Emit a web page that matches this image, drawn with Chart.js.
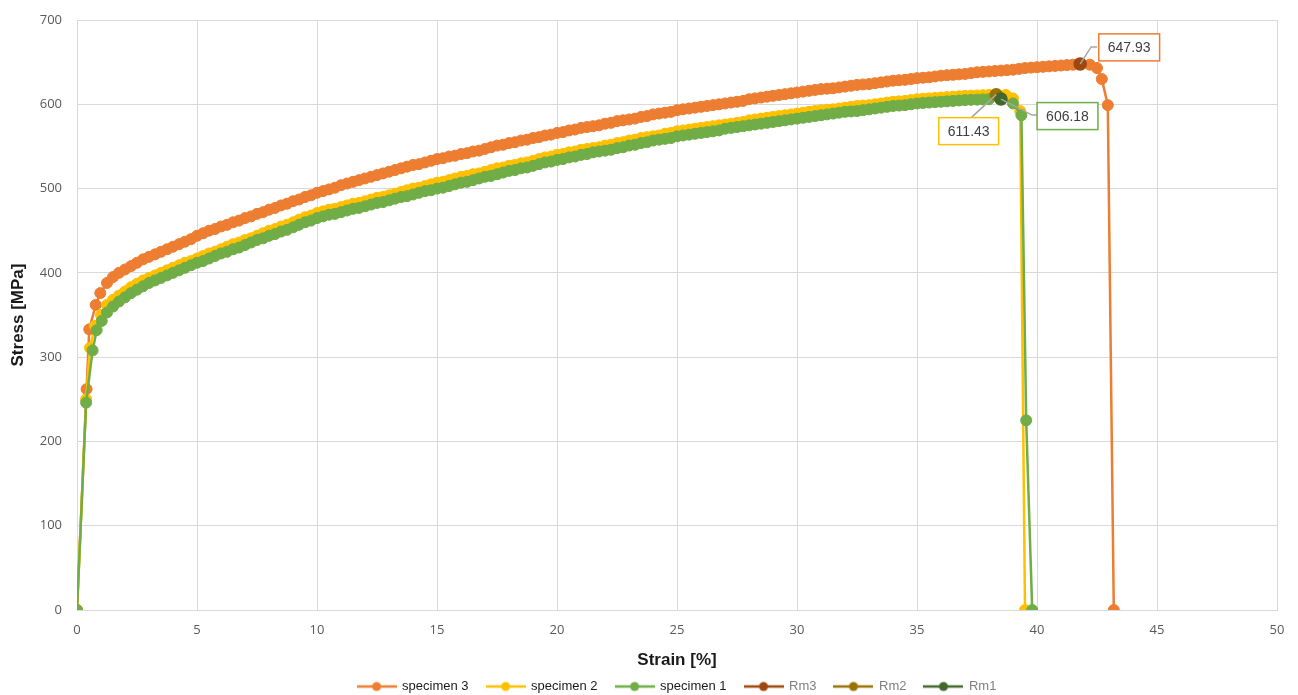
<!DOCTYPE html>
<html>
<head>
<meta charset="utf-8">
<script src="https://cdn.jsdelivr.net/npm/chart.js@4.4.1/dist/chart.umd.min.js"></script>
<style>
html, body { margin: 0; padding: 0; background: #fff; overflow: hidden; }
</style>
</head>
<body>
<canvas id="stressChart" width="1298" height="703"></canvas>
<script>
// specimen 3 (orange)
const strain3 = [0, 0.4, 0.51, 0.78, 0.97, 1.25,
    1.5, 1.75, 2, 2.25, 2.5, 2.75, 3, 3.25, 3.5, 3.75, 4, 4.25, 4.5, 4.75, 5,
    5.25, 5.5, 5.75, 6, 6.25, 6.5, 6.75, 7, 7.25, 7.5, 7.75, 8, 8.25, 8.5, 8.75, 9, 9.25, 9.5, 9.75, 10,
    10.25, 10.5, 10.75, 11, 11.25, 11.5, 11.75, 12, 12.25, 12.5, 12.75, 13, 13.25, 13.5, 13.75, 14, 14.25, 14.5, 14.75, 15,
    15.25, 15.5, 15.75, 16, 16.25, 16.5, 16.75, 17, 17.25, 17.5, 17.75, 18, 18.25, 18.5, 18.75, 19, 19.25, 19.5, 19.75, 20,
    20.25, 20.5, 20.75, 21, 21.25, 21.5, 21.75, 22, 22.25, 22.5, 22.75, 23, 23.25, 23.5, 23.75, 24, 24.25, 24.5, 24.75, 25,
    25.25, 25.5, 25.75, 26, 26.25, 26.5, 26.75, 27, 27.25, 27.5, 27.75, 28, 28.25, 28.5, 28.75, 29, 29.25, 29.5, 29.75, 30,
    30.25, 30.5, 30.75, 31, 31.25, 31.5, 31.75, 32, 32.25, 32.5, 32.75, 33, 33.25, 33.5, 33.75, 34, 34.25, 34.5, 34.75, 35,
    35.25, 35.5, 35.75, 36, 36.25, 36.5, 36.75, 37, 37.25, 37.5, 37.75, 38, 38.25, 38.5, 38.75, 39, 39.25, 39.5, 39.75, 40,
    40.25, 40.5, 40.75, 41, 41.25, 41.5, 41.8, 42.2, 42.5, 42.7, 42.95, 43.2];
const stress3 = [0, 262, 333, 362, 376, 388,
    395, 400, 404, 408, 412, 416, 419, 422, 425, 428, 431, 434, 437, 440, 444,
    447, 450, 452, 455, 457, 460, 462, 465, 467, 470, 472, 475, 477, 480, 482, 485, 487, 490, 492, 495,
    497, 499, 501, 504, 506, 508, 510, 512, 514, 516, 518, 520, 522, 524, 526, 528, 529, 531, 533, 535,
    536, 538, 539, 541, 542, 544, 545, 547, 549, 551, 552, 554, 555, 557, 558, 560, 561, 563, 564, 566,
    567, 569, 570, 572, 573, 574, 575, 577, 578, 580, 581, 582, 583, 585, 586, 588, 589, 590, 591, 593,
    594, 595, 596, 597, 598, 599, 600, 601, 602, 603, 604, 606, 607, 608, 609, 610, 611, 612, 613, 614,
    615, 616, 617, 618, 618.5, 619, 620, 621, 622, 623, 623.5, 624, 625, 626, 627, 628, 628.5, 629, 630, 631,
    631.5, 632, 633, 634, 634.5, 635, 635.5, 636, 637, 638, 638.5, 639, 639.5, 640, 640.5, 641, 642, 643, 643.5, 644,
    644.5, 645, 645.5, 646, 646.5, 647, 647.93, 647, 643, 630, 599, 0];

// specimen 2 (yellow)
const strain2 = [0, 0.38, 0.54, 0.75, 1, 1.25,
    1.5, 1.75, 2, 2.25, 2.5, 2.75, 3, 3.25, 3.5, 3.75, 4, 4.25, 4.5, 4.75, 5,
    5.25, 5.5, 5.75, 6, 6.25, 6.5, 6.75, 7, 7.25, 7.5, 7.75, 8, 8.25, 8.5, 8.75, 9, 9.25, 9.5, 9.75, 10,
    10.25, 10.5, 10.75, 11, 11.25, 11.5, 11.75, 12, 12.25, 12.5, 12.75, 13, 13.25, 13.5, 13.75, 14, 14.25, 14.5, 14.75, 15,
    15.25, 15.5, 15.75, 16, 16.25, 16.5, 16.75, 17, 17.25, 17.5, 17.75, 18, 18.25, 18.5, 18.75, 19, 19.25, 19.5, 19.75, 20,
    20.25, 20.5, 20.75, 21, 21.25, 21.5, 21.75, 22, 22.25, 22.5, 22.75, 23, 23.25, 23.5, 23.75, 24, 24.25, 24.5, 24.75, 25,
    25.25, 25.5, 25.75, 26, 26.25, 26.5, 26.75, 27, 27.25, 27.5, 27.75, 28, 28.25, 28.5, 28.75, 29, 29.25, 29.5, 29.75, 30,
    30.25, 30.5, 30.75, 31, 31.25, 31.5, 31.75, 32, 32.25, 32.5, 32.75, 33, 33.25, 33.5, 33.75, 34, 34.25, 34.5, 34.75, 35,
    35.25, 35.5, 35.75, 36, 36.25, 36.5, 36.75, 37, 37.25, 37.5, 37.75, 38,
    38.3, 38.7, 39, 39.3, 39.5];
const stress2 = [0, 250, 311, 337, 350, 362,
    368, 373, 378, 383, 387, 391, 394, 397, 400, 403, 406, 409, 412, 414, 417,
    420, 423, 425, 428, 431, 434, 436, 439, 441, 444, 447, 450, 452, 455, 457, 460, 463, 466, 468, 471,
    473, 475, 476, 478, 480, 482, 483, 485, 487, 489, 490, 492, 494, 496, 498, 500, 501, 503, 505, 507,
    508, 510, 512, 514, 515, 517, 518, 520, 522, 524, 525, 527, 528, 530, 531, 533, 535, 537, 538, 540,
    541, 543, 544, 546, 547, 548, 549, 551, 552, 554, 555, 557, 558, 560, 561, 562, 563, 565, 566, 568,
    569, 570, 571, 572, 573, 574, 575, 576, 577, 578, 579, 581, 582, 583, 584, 585, 586, 587, 588, 589,
    590, 591, 592, 593, 593.5, 594, 595, 596, 597, 598, 598.5, 599, 600, 601, 602, 603, 603.5, 604, 605, 606,
    606.5, 607, 607.5, 608, 608.5, 609, 609.5, 610, 610.3, 610.5, 610.8, 611,
    611.43, 611, 607, 592, 0];

// specimen 1 (green)
const strain1 = [0, 0.38, 0.65, 0.82, 1.03, 1.25,
    1.5, 1.75, 2, 2.25, 2.5, 2.75, 3, 3.25, 3.5, 3.75, 4, 4.25, 4.5, 4.75, 5,
    5.25, 5.5, 5.75, 6, 6.25, 6.5, 6.75, 7, 7.25, 7.5, 7.75, 8, 8.25, 8.5, 8.75, 9, 9.25, 9.5, 9.75, 10,
    10.25, 10.5, 10.75, 11, 11.25, 11.5, 11.75, 12, 12.25, 12.5, 12.75, 13, 13.25, 13.5, 13.75, 14, 14.25, 14.5, 14.75, 15,
    15.25, 15.5, 15.75, 16, 16.25, 16.5, 16.75, 17, 17.25, 17.5, 17.75, 18, 18.25, 18.5, 18.75, 19, 19.25, 19.5, 19.75, 20,
    20.25, 20.5, 20.75, 21, 21.25, 21.5, 21.75, 22, 22.25, 22.5, 22.75, 23, 23.25, 23.5, 23.75, 24, 24.25, 24.5, 24.75, 25,
    25.25, 25.5, 25.75, 26, 26.25, 26.5, 26.75, 27, 27.25, 27.5, 27.75, 28, 28.25, 28.5, 28.75, 29, 29.25, 29.5, 29.75, 30,
    30.25, 30.5, 30.75, 31, 31.25, 31.5, 31.75, 32, 32.25, 32.5, 32.75, 33, 33.25, 33.5, 33.75, 34, 34.25, 34.5, 34.75, 35,
    35.25, 35.5, 35.75, 36, 36.25, 36.5, 36.75, 37, 37.25, 37.5, 37.75, 38,
    38.5, 39, 39.35, 39.55, 39.8];
const stress1 = [0, 246, 308, 332, 343, 353,
    360, 366, 371, 376, 380, 384, 388, 391, 394, 397, 400, 403, 406, 409, 412,
    414, 417, 420, 423, 425, 428, 430, 433, 436, 439, 441, 444, 446, 449, 451, 454, 457, 460, 462, 465,
    467, 469, 470, 472, 474, 476, 477, 479, 481, 483, 484, 486, 488, 490, 491, 493, 495, 497, 498, 500,
    501, 503, 505, 507, 508, 510, 512, 514, 515, 517, 519, 521, 522, 524, 525, 527, 529, 531, 532, 534,
    535, 537, 538, 540, 541, 543, 544, 545, 546, 548, 549, 551, 552, 554, 555, 557, 558, 559, 560, 562,
    563, 564, 565, 566, 567, 568, 569, 571, 572, 573, 574, 575, 576, 577, 578, 579, 580, 581, 582, 583,
    584, 585, 586, 587, 588, 589, 590, 591, 591.5, 592, 593, 594, 595, 596, 597, 598, 598.5, 599, 600, 601,
    601.5, 602, 602.5, 603, 603.5, 604, 604.5, 605, 605.3, 605.5, 605.8, 606,
    606.18, 601, 587, 225, 0];

// tensile strength Rm (order: Rm3, Rm2, Rm1)
const rmNames = ['Rm3', 'Rm2', 'Rm1'];
const rmStrain = [41.8, 38.3, 38.5];
const rmStress = [647.93, 611.43, 606.18];

const xTicks = { min: 0, max: 50, step: 5 };
const yTicks = { min: 0, max: 700, step: 100 };

const colors = {
    s3: '#ED7D31', s2: '#FFC000', s1: '#70AD47',
    rm3: '#9E480E', rm2: '#997300', rm1: '#43682B'
};

function toPoints(xs, ys) {
    return xs.map((x, i) => ({ x: x, y: ys[i] }));
}

function specimen(label, xs, ys, color, order) {
    return {
        label: label,
        data: toPoints(xs, ys),
        borderColor: color,
        backgroundColor: color,
        pointBackgroundColor: color,
        pointBorderColor: color,
        pointRadius: 5.5,
        pointBorderWidth: 1,
        borderWidth: 2.5,
        showLine: true,
        order: order
    };
}

function rmSet(i, color, order) {
    return {
        label: rmNames[i],
        data: [{ x: rmStrain[i], y: rmStress[i] }],
        borderColor: color,
        backgroundColor: color,
        pointBackgroundColor: color,
        pointBorderColor: color,
        pointRadius: 5.5,
        borderWidth: 2.5,
        showLine: false,
        order: order
    };
}

// legend icon: short line with a dot in the middle
function legendIcon(color) {
    const c = document.createElement('canvas');
    c.width = 40; c.height = 12;
    const g = c.getContext('2d');
    g.strokeStyle = color; g.lineWidth = 2.5;
    g.beginPath(); g.moveTo(0, 6); g.lineTo(40, 6); g.stroke();
    g.fillStyle = color;
    g.beginPath(); g.arc(20, 6, 4.5, 0, Math.PI * 2); g.fill();
    return c;
}

// callout boxes for the Rm values (offsets in px from the point)
const calloutLayout = [
    { color: '#ED7D31', box: [49, -16.5], path: [[11, -17], [17, -17]] },
    { color: '#FFC000', box: [-27.5, 36.5], path: [[-24.5, 22.5]] },
    { color: '#70AD47', box: [66.5, 17], path: [[31, 16], [36, 16]] }
];

const rmCallouts = {
    id: 'rmCallouts',
    afterDatasetsDraw(chart) {
        const ctx = chart.ctx;
        const xs = chart.scales.x, ys = chart.scales.y;
        ctx.save();
        ctx.font = '14px "Liberation Sans", Arial, sans-serif';
        calloutLayout.forEach((c, i) => {
            const px = xs.getPixelForValue(rmStrain[i]);
            const py = ys.getPixelForValue(rmStress[i]);
            // leader line
            ctx.strokeStyle = '#a5a5a5';
            ctx.lineWidth = 1.5;
            ctx.beginPath();
            ctx.moveTo(px, py);
            c.path.forEach(p => ctx.lineTo(px + p[0], py + p[1]));
            ctx.stroke();
            // box
            const text = rmStress[i].toFixed(2);
            const w = ctx.measureText(text).width + 18;
            const h = 27;
            const cx = px + c.box[0], cy = py + c.box[1];
            ctx.fillStyle = '#fff';
            ctx.fillRect(cx - w / 2, cy - h / 2, w, h);
            ctx.strokeStyle = c.color;
            ctx.lineWidth = 1.5;
            ctx.strokeRect(cx - w / 2, cy - h / 2, w, h);
            ctx.fillStyle = '#404040';
            ctx.textAlign = 'center';
            ctx.textBaseline = 'middle';
            ctx.fillText(text, cx, cy + 1);
        });
        ctx.restore();
    }
};

const ctx = document.getElementById('stressChart').getContext('2d');
const chart = new Chart(ctx, {
    type: 'scatter',
    data: {
        datasets: [
            specimen('specimen 3', strain3, stress3, colors.s3, 6),
            specimen('specimen 2', strain2, stress2, colors.s2, 5),
            specimen('specimen 1', strain1, stress1, colors.s1, 4),
            rmSet(0, colors.rm3, 3),
            rmSet(1, colors.rm2, 2),
            rmSet(2, colors.rm1, 1)
        ]
    },
    options: {
        responsive: false,
        animation: false,
        layout: { padding: { top: 20, right: 21, left: 0, bottom: 0 } },
        elements: { line: { tension: 0 } },
        plugins: {
            tooltip: { enabled: false },
            legend: {
                position: 'bottom',
                fullSize: false,
                labels: {
                    padding: 18,
                    usePointStyle: true,
                    pointStyleWidth: 38,
                    boxHeight: 12,
                    font: { family: '"Liberation Sans", Arial, sans-serif', size: 13 },
                    generateLabels: chart => chart.data.datasets.map((ds, i) => ({
                        text: ds.label,
                        fontColor: i < 3 ? '#1a1a1a' : '#7f7f7f',
                        pointStyle: legendIcon(ds.borderColor),
                        fillStyle: ds.borderColor,
                        strokeStyle: ds.borderColor,
                        lineWidth: 0,
                        hidden: false,
                        datasetIndex: i
                    }))
                }
            }
        },
        scales: {
            x: {
                type: 'linear',
                min: xTicks.min,
                max: xTicks.max,
                ticks: {
                    stepSize: xTicks.step,
                    padding: 12,
                    color: '#595959',
                    font: { family: '"Open Sans", sans-serif', size: 13 }
                },
                grid: { color: '#d9d9d9', drawTicks: false },
                border: { color: '#d9d9d9' },
                title: {
                    display: true,
                    text: 'Strain [%]',
                    color: '#1a1a1a',
                    padding: { top: 0, bottom: -9 },
                    font: { family: '"Liberation Sans", Arial, sans-serif', size: 17, weight: 'bold' }
                },
                afterFit: scale => { scale.height = 52; }
            },
            y: {
                min: yTicks.min,
                max: yTicks.max,
                ticks: {
                    stepSize: yTicks.step,
                    padding: 15,
                    color: '#595959',
                    font: { family: '"Open Sans", sans-serif', size: 13 }
                },
                grid: { color: '#d9d9d9', drawTicks: false },
                border: { color: '#d9d9d9' },
                title: {
                    display: true,
                    text: 'Stress [MPa]',
                    color: '#1a1a1a',
                    padding: { top: 8, bottom: 0 },
                    font: { family: '"Liberation Sans", Arial, sans-serif', size: 17, weight: 'bold' }
                },
                afterFit: scale => {
                    scale.width = 77;
                    scale.paddingTop = 0;
                    scale.paddingBottom = 0;
                }
            }
        }
    },
    plugins: [rmCallouts]
});
</script>
</body>
</html>
